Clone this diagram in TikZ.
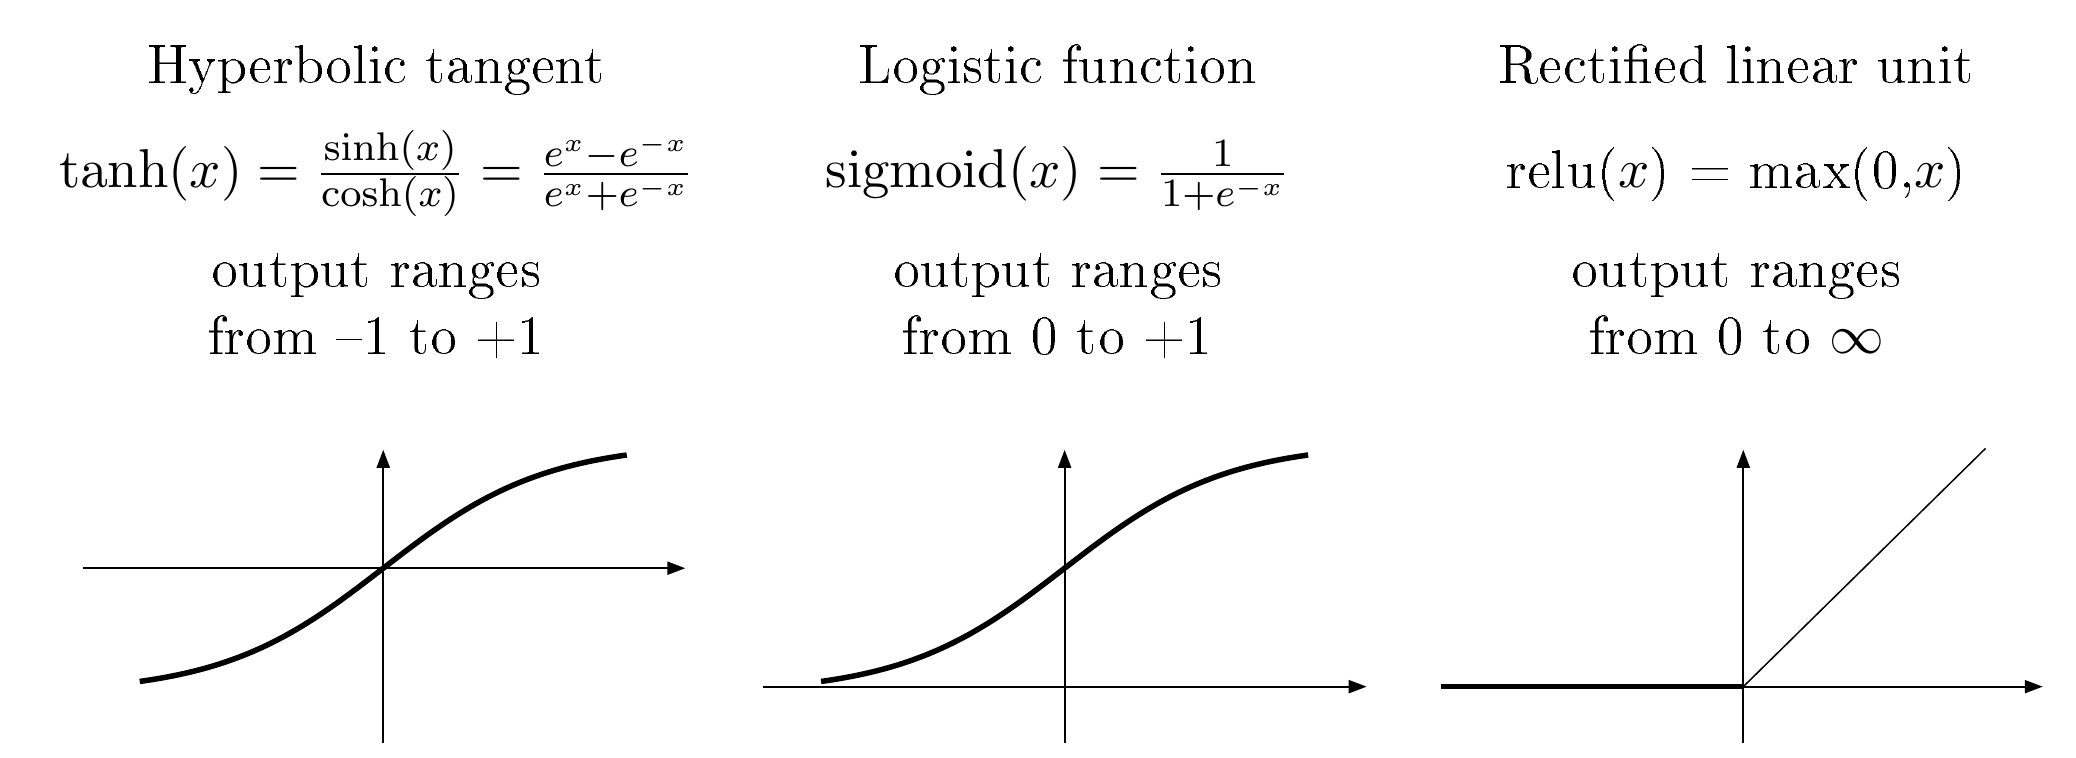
\documentclass[tikz,border=0pt]{standalone}
\usepackage[T1,OT1]{fontenc}
\usetikzlibrary{arrows.meta}
\newcommand{\palfont}{\fontencoding{T1}\fontfamily{qpl}\selectfont}
\begin{document}
\begin{tikzpicture}[x=0.2662pt,y=-0.2662pt,
  txt/.style={font=\palfont\fontsize{10.6}{13}\selectfont, anchor=base, inner sep=0pt},
  frm/.style={font=\fontsize{11}{13}\selectfont, anchor=base, inner sep=0pt},
  axis/.style={line width=0.42pt, -{Triangle[length=3.6pt,width=2.6pt]}},
  curve/.style={line width=1.1pt},
  thin/.style={line width=0.3pt}]
\useasboundingbox (0,0) rectangle (1560,569.6);

% column 1
\node[txt] (t1) at (283,62) {Hyperbolic tangent};
\node[frm] (f1) at (283,141) {$\tanh(x)=\frac{\sinh(x)}{\cosh(x)}=\frac{e^x-e^{-x}}{e^x+e^{-x}}$};
\node[txt] (o1) at (283,215) {output ranges};
\node[txt] (r1) at (283,266) {from --1 to +1};

% column 2
\node[txt] (t2) at (795,62) {Logistic function};
\node[frm] (f2) at (795,141) {$\mathrm{sigmoid}(x)=\frac{1}{1+e^{-x}}$};
\node[txt] (o2) at (795,215) {output ranges};
\node[txt] (r2) at (795,266) {from 0 to +1};

% column 3
\node[txt] (t3) at (1305,62) {Rectified linear unit};
\node[txt] (f3) at (1305,141) {relu($x$) = max(0,$x$)};
\node[txt] (o3) at (1305,215) {output ranges};
\node[txt] (r3) at (1305,266) {from 0 to $\infty$};

% plot 1
\coordinate (a1l) at (62,427);
\coordinate (a1r) at (515,427);
\coordinate (a1b) at (288,558);
\coordinate (a1t) at (288,338);
\draw[axis] (a1l) -- (a1r);
\draw[axis] (a1b) -- (a1t);
\draw[curve] plot[domain=-1.5:1.5, samples=90, smooth] ({288+122*\x},{427-94*tanh(\x)});

% plot 2
\coordinate (a2l) at (573,516);
\coordinate (a2r) at (1027,516);
\coordinate (a2b) at (800,558);
\coordinate (a2t) at (800,338);
\draw[axis] (a2l) -- (a2r);
\draw[axis] (a2b) -- (a2t);
\draw[curve] plot[domain=-1.5:1.5, samples=90, smooth] ({800+122*\x},{427-94*tanh(\x)});

% plot 3
\coordinate (a3l) at (1083,516);
\coordinate (a3r) at (1535,516);
\coordinate (a3b) at (1310,558);
\coordinate (a3t) at (1310,338);
\coordinate (a3o) at (1310,516);
\coordinate (a3e) at (1492,337);
\draw[axis] (a3l) -- (a3r);
\draw[axis] (a3b) -- (a3t);
\draw[curve] (a3l) -- (a3o);
\draw[thin] (a3o) -- (a3e);
\end{tikzpicture}
\end{document}
